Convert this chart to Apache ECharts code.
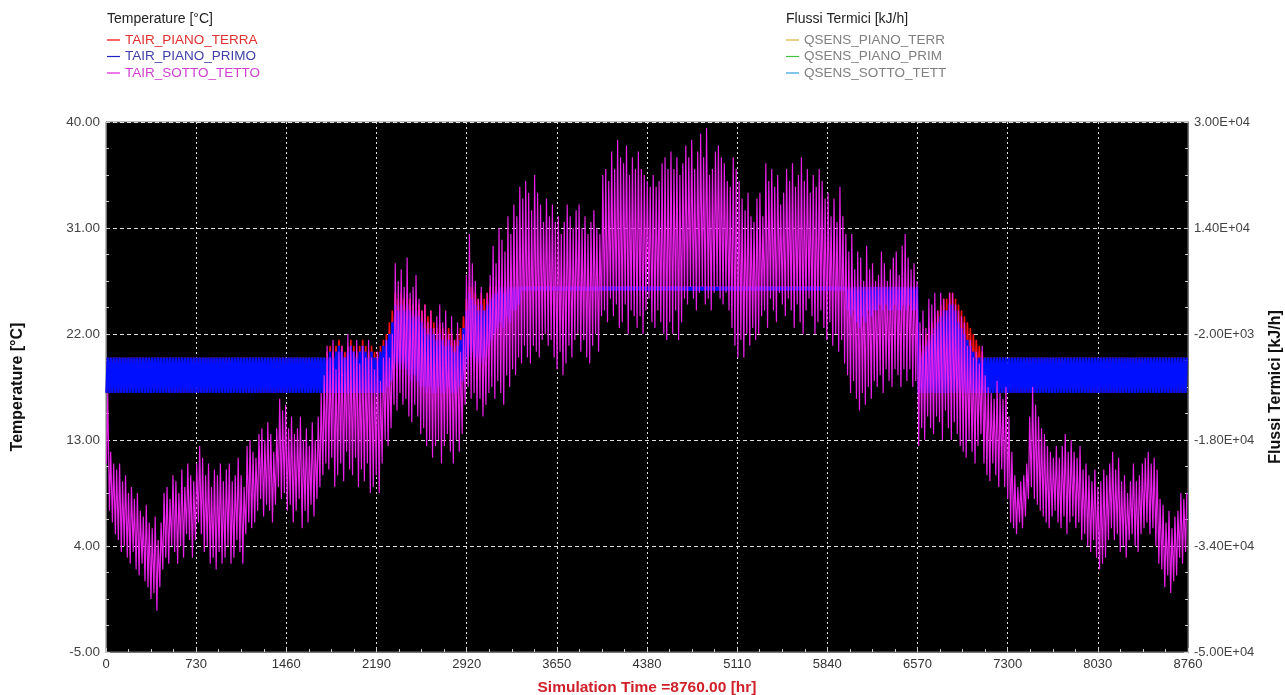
<!DOCTYPE html>
<html>
<head>
<meta charset="utf-8">
<script src="https://cdn.jsdelivr.net/npm/echarts@6/dist/echarts.min.js"></script>
<style>html,body{margin:0;padding:0;background:#fff}#c{width:1285px;height:695px}</style>
</head>
<body>
<div id="c"></div>
<script>
// Daily max / min temperatures (°C), day 0..364
const tettoMax = [17,12,11,10.5,11,9.5,10,8.5,9,8,
8.5,7,6.5,7.5,6,5.5,6.5,4.5,6,8.5,
9,8,10,9.5,8.5,10.5,9,11,10,9.5,
11,12.5,11.5,10,11,9,10.5,10,11,9.5,
10.5,11,9.5,10,11.5,10,9,12.5,13,12,
11.5,13.5,14,13,14.5,13.5,12,14,16.5,15.5,
16,14,15,13.5,14,15,13,14,12.5,14.5,
13,15,17,18.5,21,20,21.5,19,20.5,21,
20,22,21,20.5,21.5,19.5,21,20,21.5,20,
19,20.5,18,20,21.5,20,22,28,26.5,27.5,
26,28.5,25.5,26,27,25,24,24.5,23,24,
22.5,23.5,24.5,23,24,22,23.5,21.5,23,20.5,
22,27,30.5,28,26.5,25,26,24,25.5,27,
29.5,28,31,30,29,32,30.5,33,32,34.5,
33.5,35,34,32.5,35.5,34,33,31.5,33.5,32,
33,31.5,32,30.5,31.5,33,32,31,32.5,33,
31,32,30.5,31.5,32.5,31,30.5,35.5,36,35,
37.5,36,38.5,37,36.5,38,35.5,37,36,37.5,
36,35.5,35,34.5,35.5,34.5,35,36.5,37,36,
37.5,36,37,35.5,36.5,38,37,38.5,36,37.5,
39,37,39.5,35.5,36,37.5,38,37,36.5,35,
34.5,37,36,35,33.5,32.5,34,32,31.5,33.5,
34,32,36.5,35,36,34.5,35.5,33,34,36,
35,36.5,34.5,35.5,37,35,36,34,35.5,34.5,
36,35,33.5,34,32,33.5,31.5,34.5,32,30.5,
29,30.5,27.5,29,28.5,26.5,29.5,27.5,28,26.5,
27,29,28,26.5,27.5,28.5,29,27,29.5,30.5,
28.5,27.5,28,26.5,23,24,22.5,25,24.5,25.5,
24,25.5,25,24,25.5,25.5,24.5,24,23.5,23,
21,21.5,20,20.5,19.5,21,18.5,17.5,17,16.5,
18,17,16.5,17.5,15,12,10,9,9.5,10,
11,15,17.5,16,15,14,13.5,12.5,12,11.5,
12.5,11.5,12.5,13.5,12,13,12,11.5,12.5,10.5,
11,10,9.5,10.5,9,9.5,10.5,10,11,12,
10.5,11.5,9.5,10,8.5,9.5,11,9.5,10,11,
11.5,12,11,11.5,10.5,8,7.5,6,7,5.5,
6.5,7,8.5,8,8.5];
const tettoMin = [11,7,6,5,4.5,3.5,4,3,2.5,3.5,
2,1.5,2.5,1,0.5,-0.5,0,-1.5,0.5,2,
3,2.5,4,3.5,2.5,4,3,5,4.5,3,
4.5,6,5,3.5,4,2.5,3,2,3.5,2.5,
3,4,2.5,3,4.5,3.5,2.5,5,6,5.5,
6,7,8,6.5,7.5,7,6,7.5,9,8,
8.5,7,7.5,6,7,8,5.5,7,6,7.5,
6.5,8,9,10,11,10.5,11.5,9,10,11,
9.5,12,10.5,10,11.5,9,10.5,9.5,11,8.5,
9,10,8.5,11,13,12.5,14,16,15.5,17,
16,16.5,15,14.5,16,15,13.5,14,12.5,13,
11.5,12.5,13,11,12.5,13.5,12,11,13,12,
13.5,16,17.5,16.5,17,15.5,16.5,15,16,17,
17.5,16.5,18,17,16,18.5,17.5,19,18.5,20,
19.5,21,20,19.5,21,20.5,20,21.5,22,21,
21.5,20,19,20.5,18.5,19.5,21,20,21.5,22,
20.5,21.5,20,19.5,21,22,20.5,23.5,24,23,
25,23.5,24.5,22.5,23,24.5,22,24,23.5,22.5,
23.5,22,24,25,23,22.5,24,23,22,21.5,
23,22,24,21.5,23,25,24.5,26,25,24,
25.5,26,24.5,25,24,25.5,26,25,24.5,25.5,
24,22.5,21,20,21.5,20,22,21,22.5,21.5,
22,23.5,24,22.5,25,24,23,25.5,24.5,23.5,
25,24,22.5,24.5,23,22,24,25,23.5,22,
23,24,22.5,21.5,23,21,22,20.5,21.5,19.5,
18.5,17,18,16.5,15.5,17,16,17.5,16.5,18,
17.5,18.5,17,19,18,17.5,19,18.5,17.5,19,
18,19,17.5,18,12.5,14,13,15,14,13.5,
15,14.5,13,15.5,14,13,14.5,13.5,12.5,12,
11.5,13,12,11,12.5,13.5,11,10,9.5,11,
10,9,10.5,9,8,6,5.5,5,6,5.5,
6.5,8,9,8,7.5,7,6.5,6,5.5,6.5,
7,6,5.5,6.5,5,6,6.5,5.5,6,4.5,
5,4,3.5,4.5,3,2,2.5,3,4.5,5.5,
4.5,5,3.5,4,3,4.5,5,4,3.5,5,
5.5,6,5,5.5,4,2.5,2,0.5,1.5,0,
1,1.5,3,2.5,3.5];
const primoMax = [20,20,20,20,20,20,20,20,20,20,
20,20,20,20,20,20,20,20,20,20,
20,20,20,20,20,20,20,20,20,20,
20,20,20,20,20,20,20,20,20,20,
20,20,20,20,20,20,20,20,20,20,
20,20,20,20,20,20,20,20,20,20,
20,20,20,20,20,20,20,20,20,20,
20,20,20,20,
20,20.5,20,20.5,21,20.5,20,20.5,21,20.5,20,20.5,21,20.5,20,20.5,20,20,20.5,21,21.5,
22,23,24.5,24,24.5,24,24.5,24,23.5,24,23.5,23,22.5,22,22.5,22,21.5,22,21.5,21,21.5,21,20.5,21,21.5,
22.5,24,25.5,25,24.5,24,24.5,24,24.5,25,25.5,25.5,26,26,25.5,26,26,26,26,26,
26,26,26,26,26,26,26,26,26,26,26,26,26,26,26,26,26,26,26,26,
26,26,26,26,26,26,26,26,26,26,26,26,26,26,26,26,26,26,26,26,
26,26,26,26,26,26,26,26,26,26,26,26,26,26,26,26,26,26,26,26,
26,26,26,26,26,26,26,26,26,26,26,26,26,26,26,26,26,26,26,26,
26,26,26,26,26,26,26,26,26,26,26,26,26,26,26,26,26,26,26,26,
26,26,26,26,26,26,26,26,26,26,26,26,26,26,26,26,26,26,26,26,
26,26,26,26,26,26,26,26,26,26,26,26,26,26,
20,20.5,21,21.5,22,22.5,23,23.5,24,24,24.5,24.5,24,23,22.5,22,21.5,21,20.5,20,20,20,20,
20,20,20,20,20,20,20,20,20,20,
20,20,20,20,20,20,20,20,20,20,
20,20,20,20,20,20,20,20,20,20,
20,20,20,20,20,20,20,20,20,20,
20,20,20,20,20,20,20,20,20,20,
20,20,20,20,20,20,20,20,20,20,
20,20,20,20,20,20,20,20];
const primoMin = [17,17,17,17,17,17,17,17,17,17,
17,17,17,17,17,17,17,17,17,17,
17,17,17,17,17,17,17,17,17,17,
17,17,17,17,17,17,17,17,17,17,
17,17,17,17,17,17,17,17,17,17,
17,17,17,17,17,17,17,17,17,17,
17,17,17,17,17,17,17,17,17,17,
17,17,17,17,
17,17,17,17,17,17,17,17,17,17,17,17,17,17,17,17,17,17,17,17,17,
17.5,18,19,19.5,19,19.5,19,18.5,18,18.5,18,17.5,17.5,17,17.5,17,17,17.5,17,17,17.5,17,17,17,17.5,
18,19,20,20.5,20,19.5,20,19.5,20,21,21.5,22,22.5,23,22.5,23.5,23,24,24,24.5,
25.7,25.7,25.7,25.7,25.7,25.7,25.7,25.7,25.7,25.7,25.7,25.7,25.7,25.7,25.7,25.7,25.7,25.7,25.7,25.7,
25.7,25.7,25.7,25.7,25.7,25.7,25.7,25.7,25.7,25.7,25.7,25.7,25.7,25.7,25.7,25.7,25.7,25.7,25.7,25.7,
25.7,25.7,25.7,25.7,25.7,25.7,25.7,25.7,25.7,25.7,25.7,25.7,25.7,25.7,25.7,25.7,25.7,25.7,25.7,25.7,
25.7,25.7,25.7,25.7,25.7,25.7,25.7,25.7,25.7,25.7,25.7,25.7,25.7,25.7,25.7,25.7,25.7,25.7,25.7,25.7,
25.7,25.7,25.7,25.7,25.7,25.7,25.7,25.7,25.7,25.7,25.7,25.7,25.7,25.7,25.7,25.7,25.7,25.7,25.7,25.7,
25.7,25.7,25.7,25.7,25.7,25.7,25.7,25.7,25.7,25.7,
24,23.5,24,23,22.5,23.5,23,24,23.5,24,24,24.5,24,24.5,24,24,24.5,24,24,24.5,24,24.5,24,24,
17,17,17,17,17,17,17,17,17,17,17,17,17,17,17,17,17,17,17,17,17,17,17,
17,17,17,17,17,17,17,17,17,17,
17,17,17,17,17,17,17,17,17,17,
17,17,17,17,17,17,17,17,17,17,
17,17,17,17,17,17,17,17,17,17,
17,17,17,17,17,17,17,17,17,17,
17,17,17,17,17,17,17,17,17,17,
17,17,17,17,17,17,17,17];
const terraMax = [20,20,20,20,20,20,20,20,20,20,
20,20,20,20,20,20,20,20,20,20,
20,20,20,20,20,20,20,20,20,20,
20,20,20,20,20,20,20,20,20,20,
20,20,20,20,20,20,20,20,20,20,
20,20,20,20,20,20,20,20,20,20,
20,20,20,20,20,20,20,20,20,20,
20,20,20,20,
20.5,21,20.5,21,21.5,21,20.5,21,21.5,21,20.5,21,21.5,21,20.5,21,20.5,20.5,21,21.5,22,
23,24,25.5,25,25.5,25,25.5,25,24.5,25,24.5,24,24.5,23.5,24,23,22.5,23,22.5,22,22.5,22,21.5,22,22.5,
23.5,25,26,26,25.5,25,25.5,25,25.5,26,26,26,26,26,26,26,26,26,26,26,
26,26,26,26,26,26,26,26,26,26,26,26,26,26,26,26,26,26,26,26,
26,26,26,26,26,26,26,26,26,26,26,26,26,26,26,26,26,26,26,26,
26,26,26,26,26,26,26,26,26,26,26,26,26,26,26,26,26,26,26,26,
26,26,26,26,26,26,26,26,26,26,26,26,26,26,26,26,26,26,26,26,
26,26,26,26,26,26,26,26,26,26,26,26,26,26,26,26,26,26,26,26,
26,26,26,26,26,26,26,26,26,26,26,26,26,26,26,26,26,26,26,26,
26,26,26,26,26,26,26,26,26,26,26,26,26,26,
21,21.5,22,22.5,23,23.5,24,24.5,25,25,25.5,25.5,25,24.5,24,23.5,23,22.5,22,21.5,21,20.5,20,
20,20,20,20,20,20,20,20,20,20,
20,20,20,20,20,20,20,20,20,20,
20,20,20,20,20,20,20,20,20,20,
20,20,20,20,20,20,20,20,20,20,
20,20,20,20,20,20,20,20,20,20,
20,20,20,20,20,20,20,20,20,20,
20,20,20,20,20,20,20,20];
const terraMin = [17,17,17,17,17,17,17,17,17,17,
17,17,17,17,17,17,17,17,17,17,
17,17,17,17,17,17,17,17,17,17,
17,17,17,17,17,17,17,17,17,17,
17,17,17,17,17,17,17,17,17,17,
17,17,17,17,17,17,17,17,17,17,
17,17,17,17,17,17,17,17,17,17,
17,17,17,17,17,17,17,17,17,17,
17,17,17,17,17,17,17,17,17,17,
17,17,17,17,17,
18,19,20,20.5,20,20.5,20,19.5,19,19.5,19,18.5,18.5,18,18.5,18,18,18.5,18,18,18.5,18,18,18,18.5,
19,20,21,21.5,21,20.5,21,20.5,21,22,22.5,23,23.5,24,23.5,24.5,24,25,25,25,
25.7,25.7,25.7,25.7,25.7,25.7,25.7,25.7,25.7,25.7,25.7,25.7,25.7,25.7,25.7,25.7,25.7,25.7,25.7,25.7,
25.7,25.7,25.7,25.7,25.7,25.7,25.7,25.7,25.7,25.7,25.7,25.7,25.7,25.7,25.7,25.7,25.7,25.7,25.7,25.7,
25.7,25.7,25.7,25.7,25.7,25.7,25.7,25.7,25.7,25.7,25.7,25.7,25.7,25.7,25.7,25.7,25.7,25.7,25.7,25.7,
25.7,25.7,25.7,25.7,25.7,25.7,25.7,25.7,25.7,25.7,25.7,25.7,25.7,25.7,25.7,25.7,25.7,25.7,25.7,25.7,
25.7,25.7,25.7,25.7,25.7,25.7,25.7,25.7,25.7,25.7,25.7,25.7,25.7,25.7,25.7,25.7,25.7,25.7,25.7,25.7,
25.7,25.7,25.7,25.7,25.7,25.7,25.7,25.7,25.7,25.7,
25,25,25,25,25,25,25,25,25,25,25,25,25,25,25,25,25,25,25,25,25,25,25,25,
18,18,18,18,18,18,18,18,18,18,18,18,18,18,18,18,18,18,18,18,18,18,18,
17,17,17,17,17,17,17,17,17,17,
17,17,17,17,17,17,17,17,17,17,
17,17,17,17,17,17,17,17,17,17,
17,17,17,17,17,17,17,17,17,17,
17,17,17,17,17,17,17,17,17,17,
17,17,17,17,17,17,17,17,17,17,
17,17,17,17,17,17,17,17];
// Heat flux series (not visible in the plot area)
const qsensTerra = [];
const qsensPrimo = [];
const qsensTetto = [];
const tempNames = ['TAIR_PIANO_TERRA','TAIR_PIANO_PRIMO','TAIR_SOTTO_TETTO'];
const fluxNames = ['QSENS_PIANO_TERR','QSENS_PIANO_PRIM','QSENS_SOTTO_TETT'];

function dailyLine(mins, maxs){
  const out = [];
  for (let d = 0; d < mins.length; d++){
    out.push([d*24+4, mins[d]]);
    out.push([d*24+14, maxs[d]]);
  }
  return out;
}
function sci(v){
  if (v === 0) return '0.00E+00';
  const s = v.toExponential(2).split('e');
  const n = Math.abs(parseInt(s[1],10));
  return s[0] + 'E' + (s[1][0]==='-'?'-':'+') + (n<10?'0'+n:n);
}
const FONT = 'Liberation Sans, Arial, sans-serif';
const chart = echarts.init(document.getElementById('c'), null, {renderer:'canvas'});
chart.setOption({
  animation:false,
  backgroundColor:'#fff',
  title:[
    {text:'Temperature [°C]', left:107, top:12, padding:0, textStyle:{fontSize:14, fontWeight:'normal', color:'#222', fontFamily:FONT}},
    {text:'Flussi Termici [kJ/h]', left:786, top:12, padding:0, textStyle:{fontSize:14, fontWeight:'normal', color:'#222', fontFamily:FONT}}
  ],
  legend:[
    {orient:'vertical', left:107, top:32, padding:0, icon:'rect', itemWidth:13, itemHeight:1.2, itemGap:0.5,
     textStyle:{fontSize:13.5, fontFamily:FONT, lineHeight:16},
     data:[
       {name:tempNames[0], textStyle:{color:'#e03030'}},
       {name:tempNames[1], textStyle:{color:'#4040a8'}},
       {name:tempNames[2], textStyle:{color:'#d040d0'}}
     ], selectedMode:false},
    {orient:'vertical', left:786, top:32, padding:0, icon:'rect', itemWidth:13, itemHeight:1.2, itemGap:0.5,
     textStyle:{fontSize:13.5, fontFamily:FONT, lineHeight:16, color:'#808080'},
     data:fluxNames, selectedMode:false}
  ],
  grid:{left:106, right:97, top:122, bottom:43, outerBoundsMode:'none', containLabel:false, show:true, backgroundColor:'#000', borderColor:'#777', borderWidth:1},
  xAxis:{
    type:'value', min:0, max:8760, interval:730,
    name:'Simulation Time =8760.00 [hr]', nameLocation:'middle', nameGap:28,
    nameTextStyle:{color:'#d0202a', fontWeight:'bold', fontSize:15.5, fontFamily:FONT},
    axisLine:{show:true, onZero:false, lineStyle:{color:'#777'}},
    axisTick:{show:true, inside:true, length:4, lineStyle:{color:'#ccc'}},
    minorTick:{show:true, splitNumber:4, length:3, lineStyle:{color:'#ccc'}},
    axisLabel:{color:'#333', fontSize:13, fontFamily:FONT, margin:6, formatter:function(v){return String(v);}},
    splitLine:{show:true, lineStyle:{color:'#e0e0e0', type:[2,3], width:1}}
  },
  yAxis:[
    {type:'value', min:-5, max:40, interval:9, position:'left',
     name:'Temperature [°C]', nameLocation:'middle', nameGap:80, nameRotate:90,
     nameTextStyle:{color:'#111', fontWeight:'bold', fontSize:16, fontFamily:FONT},
     axisLine:{show:true, onZero:false, lineStyle:{color:'#777'}},
     axisTick:{show:true, inside:true, length:4, lineStyle:{color:'#ccc'}},
     minorTick:{show:true, splitNumber:4, length:3, lineStyle:{color:'#ccc'}},
     axisLabel:{color:'#444', fontSize:13.5, fontFamily:FONT, margin:6, formatter:function(v){return v.toFixed(2);}},
     splitLine:{show:true, lineStyle:{color:'#e0e0e0', type:[4,3], width:1}}
    },
    {type:'value', min:-50000, max:30000, interval:16000, position:'right',
     name:'Flussi Termici [kJ/h]', nameLocation:'middle', nameGap:80, nameRotate:90,
     nameTextStyle:{color:'#111', fontWeight:'bold', fontSize:16, fontFamily:FONT},
     axisLine:{show:true, onZero:false, lineStyle:{color:'#777'}},
     axisTick:{show:true, inside:true, length:4, lineStyle:{color:'#ccc'}},
     minorTick:{show:true, splitNumber:4, length:3, lineStyle:{color:'#ccc'}},
     axisLabel:{color:'#444', fontSize:13, fontFamily:FONT, margin:6, formatter:sci},
     splitLine:{show:false}
    }
  ],
  series:[
    {name:tempNames[0], type:'line', yAxisIndex:0, data:dailyLine(terraMin, terraMax), showSymbol:false, symbol:'none', color:'#ff0000', lineStyle:{width:1.6, color:'#ff1010'}, z:2},
    {name:tempNames[1], type:'line', yAxisIndex:0, data:dailyLine(primoMin, primoMax), showSymbol:false, symbol:'none', color:'#2020c0', lineStyle:{width:2.4, color:'#0010ff'}, z:3},
    {name:tempNames[2], type:'line', yAxisIndex:0, data:dailyLine(tettoMin, tettoMax), showSymbol:false, symbol:'none', color:'#e020e0', lineStyle:{width:1.2, color:'#e820e8'}, z:4},
    {name:fluxNames[0], type:'line', yAxisIndex:1, data:qsensTerra, showSymbol:false, color:'#e0b030'},
    {name:fluxNames[1], type:'line', yAxisIndex:1, data:qsensPrimo, showSymbol:false, color:'#40c040'},
    {name:fluxNames[2], type:'line', yAxisIndex:1, data:qsensTetto, showSymbol:false, color:'#30a0e0'}
  ]
});
</script>
</body>
</html>
